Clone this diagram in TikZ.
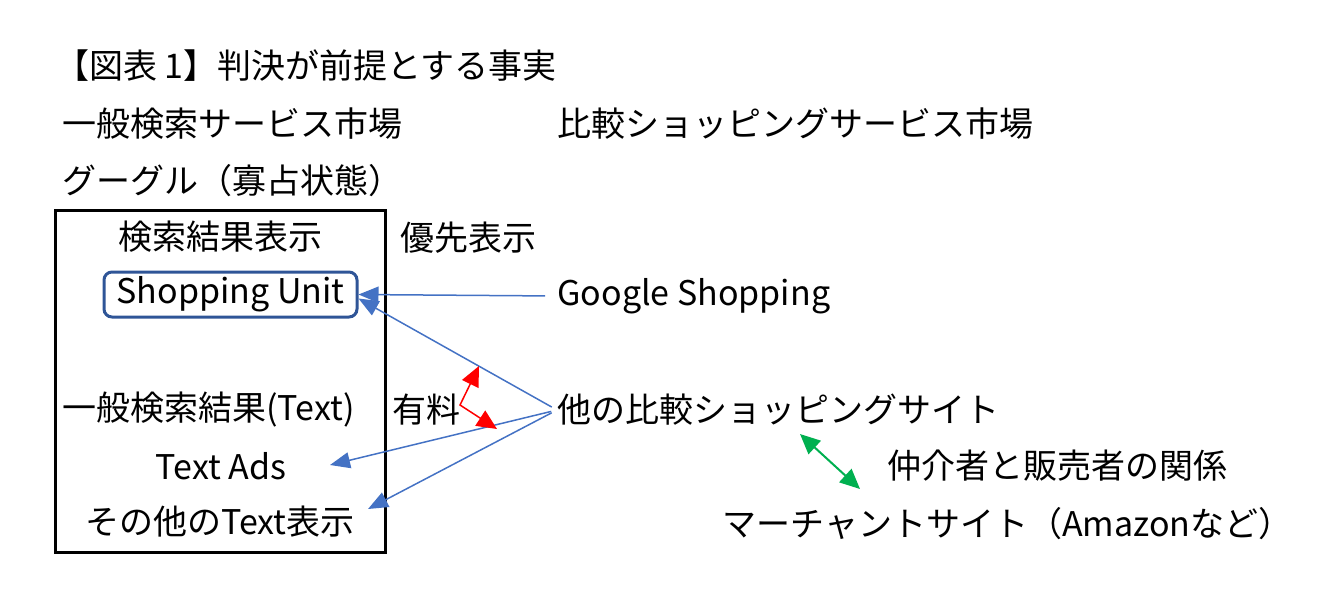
\documentclass[tikz,border=0pt]{standalone}
\usepackage{fontspec}
\setmainfont{Noto Sans CJK JP}
\usetikzlibrary{arrows.meta}
\definecolor{linkblue}{HTML}{4472C4}
\definecolor{unitblue}{HTML}{2F5597}
\definecolor{relgreen}{HTML}{00B050}
\tikzset{
	txt/.style={inner sep=0pt, anchor=west, font=\fontsize{17}{20}\selectfont},
	ctxt/.style={inner sep=0pt, font=\fontsize{17}{20}\selectfont},
	bluearrow/.style={draw=linkblue, line width=0.75pt, -{Triangle[length=10pt,width=8pt]}},
	redarrow/.style={draw=red, line width=0.75pt, {Triangle[length=10pt,width=9pt]}-{Triangle[length=10pt,width=9pt]}},
	greenarrow/.style={draw=relgreen, line width=1pt, {Triangle[length=10pt,width=9pt]}-{Triangle[length=10pt,width=9pt]}}
}

\begin{document}
\begin{tikzpicture}[x=0.5pt,y=-0.5pt]
			\useasboundingbox (0,0) rectangle (1331,601);
			\node[txt] (title) at (55,66) {【図表 1】判決が前提とする事実};
			\node[txt] (general) at (62,124) {一般検索サービス市場};
			\node[txt] (compare) at (557,124) {比較ショッピングサービス市場};
			\node[txt] (google) at (62,181) {グーグル（寡占状態）};
			\draw[line width=1.5pt] (55,210) rectangle (385,552);
			\node[ctxt] (results) at (220,237) {検索結果表示};
			\node[txt] (priority) at (400,238) {優先表示};
			\node[ctxt, draw=unitblue, line width=1.5pt, rounded corners=4pt, minimum width=126.5pt, minimum height=22.5pt] (unit) at (230.5,294.5) {Shopping Unit};
			\node[txt] (gshop) at (557,296) {Google Shopping};
			\node[txt] (organic) at (62,410) {一般検索結果(Text)};
			\node[txt] (paid) at (392,410) {有料};
			\node[txt] (other) at (557,410) {他の比較ショッピングサイト};
			\node[ctxt] (ads) at (221,466) {Text Ads};
			\node[ctxt] (misc) at (220,522) {その他のText表示};
			\node[txt] (relation) at (887,466) {仲介者と販売者の関係};
			\node[txt] (merchant) at (722,524) {マーチャントサイト（Amazonなど）};
			\coordinate (adsend) at (330,465);
			\coordinate (miscend) at (368,509);
			\coordinate (paidup) at (479,366);
			\coordinate (paidbend) at (460,405);
			\coordinate (paiddown) at (497,429);
			\coordinate (relup) at (800,434);
			\coordinate (reldown) at (860,489);
			\draw[bluearrow, shorten <=6pt] (gshop.west) -- (unit.east);
			\draw[bluearrow, shorten <=3pt] (other.west) -- ([yshift=-2pt]unit.east);
			\draw[bluearrow, shorten <=3pt] (other.west) -- (adsend);
			\draw[bluearrow, shorten <=3pt] (other.west) -- (miscend);
			\draw[redarrow] (paidup) -- (paidbend) -- (paiddown);
			\draw[greenarrow] (relup) -- (reldown);
		\end{tikzpicture}
\end{document}
